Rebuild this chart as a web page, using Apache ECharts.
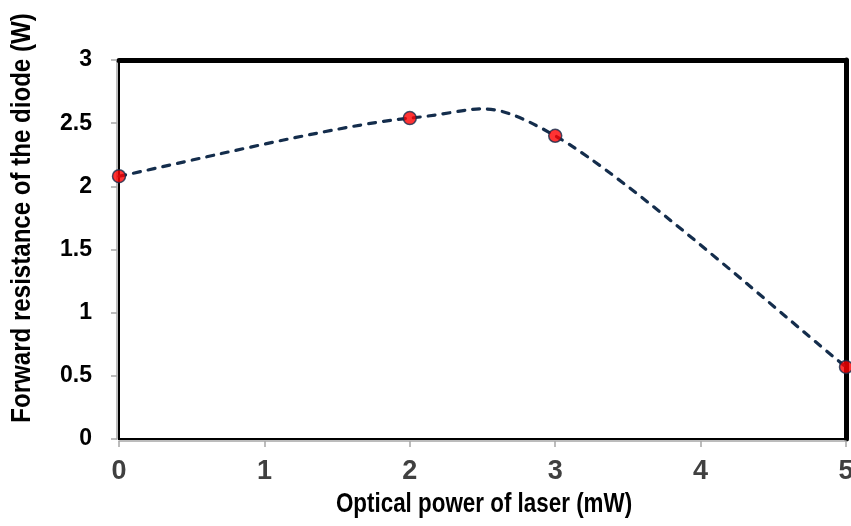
<!DOCTYPE html>
<html>
<head>
<meta charset="utf-8">
<script src="https://cdn.jsdelivr.net/npm/echarts@6/dist/echarts.min.js"></script>
<style>html,body{margin:0;padding:0;background:#fff;}#c{width:851px;height:526px;}</style>
</head>
<body>
<div id="c"></div>
<script>
var xValues = [0, 2, 3, 5];
var yValues = [2.08, 2.54, 2.40, 0.57];
var xTicks = [0, 1, 2, 3, 4, 5];
var yTicks = [0, 0.5, 1, 1.5, 2, 2.5, 3];
var xTitle = 'Optical power of laser (mW)';
var yTitle = 'Forward resistance of the diode (W)';

var seriesData = xValues.map(function (x, i) { return [x, yValues[i]]; });
var lineColor = '#142d4c';

var chart = echarts.init(document.getElementById('c'), null, {renderer: 'canvas'});
chart.setOption({
  backgroundColor: '#ffffff',
  animation: false,
  grid: {left: 119, right: 5, top: 60, bottom: 87, containLabel: false, outerBoundsMode: 'none',
    show: true, borderColor: '#000', borderWidth: 2, backgroundColor: 'transparent'},
  xAxis: [{
    type: 'value', min: 0, max: 5, interval: 1, position: 'bottom', offset: 2,
    axisLine: {show: true, onZero: false, lineStyle: {color: '#a6a6a6', width: 1.5}},
    axisTick: {show: true, length: 6, lineStyle: {color: '#a6a6a6', width: 1.5}},
    splitLine: {show: false},
    axisLabel: {margin: 17, color: '#404040', fontFamily: '"Liberation Sans", Arial, sans-serif', fontWeight: 'bold', fontSize: 27,
      formatter: function (v) { return xTicks.indexOf(v) >= 0 ? String(v) : ''; }}
  }, {
    type: 'value', min: 0, max: 5, interval: 1, position: 'top',
    axisLine: {show: true, onZero: false, lineStyle: {color: '#000', width: 5}},
    axisTick: {show: false}, axisLabel: {show: false}, splitLine: {show: false}
  }],
  yAxis: [{
    type: 'value', min: 0, max: 3, interval: 0.5, position: 'left', offset: 2,
    axisLine: {show: true, onZero: false, lineStyle: {color: '#a6a6a6', width: 1.5}},
    axisTick: {show: true, length: 6, lineStyle: {color: '#a6a6a6', width: 1.5}},
    splitLine: {show: false},
    axisLabel: {margin: 25, color: '#000', fontFamily: '"Liberation Sans", Arial, sans-serif', fontWeight: 'bold', fontSize: 23,
      formatter: function (v) { return yTicks.indexOf(v) >= 0 ? String(v) : ''; }}
  }, {
    type: 'value', min: 0, max: 3, interval: 0.5, position: 'right',
    axisLine: {show: true, onZero: false, lineStyle: {color: '#000', width: 5}},
    axisTick: {show: false}, axisLabel: {show: false}, splitLine: {show: false}
  }],
  graphic: [{
    type: 'text', x: 22, y: 218, rotation: Math.PI / 2, scaleX: 0.86, scaleY: 1,
    style: {text: yTitle, fill: '#000', font: 'bold 28px "Liberation Sans", Arial, sans-serif', textAlign: 'center', textVerticalAlign: 'middle'}
  }, {
    type: 'text', x: 484, y: 504, scaleX: 0.8, scaleY: 1,
    style: {text: xTitle, fill: '#000', font: 'bold 28px "Liberation Sans", Arial, sans-serif', textAlign: 'center', textVerticalAlign: 'middle'}
  }],
  series: [{
    type: 'custom', xAxisIndex: 0, yAxisIndex: 0, data: seriesData, z: 4,
    encode: {x: 0, y: 1},
    renderItem: function (params, api) {
      if (params.dataIndex !== 0) return null;
      var pts = seriesData.map(function (d) { return api.coord(d); });
      var n = pts.length;
      var path = 'M' + pts[0][0] + ' ' + pts[0][1];
      for (var i = 0; i < n - 1; i++) {
        var p0 = pts[Math.max(i - 1, 0)], p1 = pts[i], p2 = pts[i + 1], p3 = pts[Math.min(i + 2, n - 1)];
        var c1x = p1[0] + (p2[0] - p0[0]) / 6, c1y = p1[1] + (p2[1] - p0[1]) / 6;
        var c2x = p2[0] - (p3[0] - p1[0]) / 6, c2y = p2[1] - (p3[1] - p1[1]) / 6;
        path += ' C' + c1x + ' ' + c1y + ' ' + c2x + ' ' + c2y + ' ' + p2[0] + ' ' + p2[1];
      }
      return {
        type: 'path', shape: {pathData: path},
        style: {fill: null, stroke: lineColor, lineWidth: 3.2, lineDash: [7, 8], lineCap: 'round'}
      };
    }
  }, {
    type: 'scatter', xAxisIndex: 0, yAxisIndex: 0, data: seriesData, z: 5, clip: false,
    symbol: 'circle', symbolSize: 13,
    itemStyle: {color: '#ff0000', borderColor: lineColor, borderWidth: 1.5}
  }]
});
</script>
</body>
</html>
